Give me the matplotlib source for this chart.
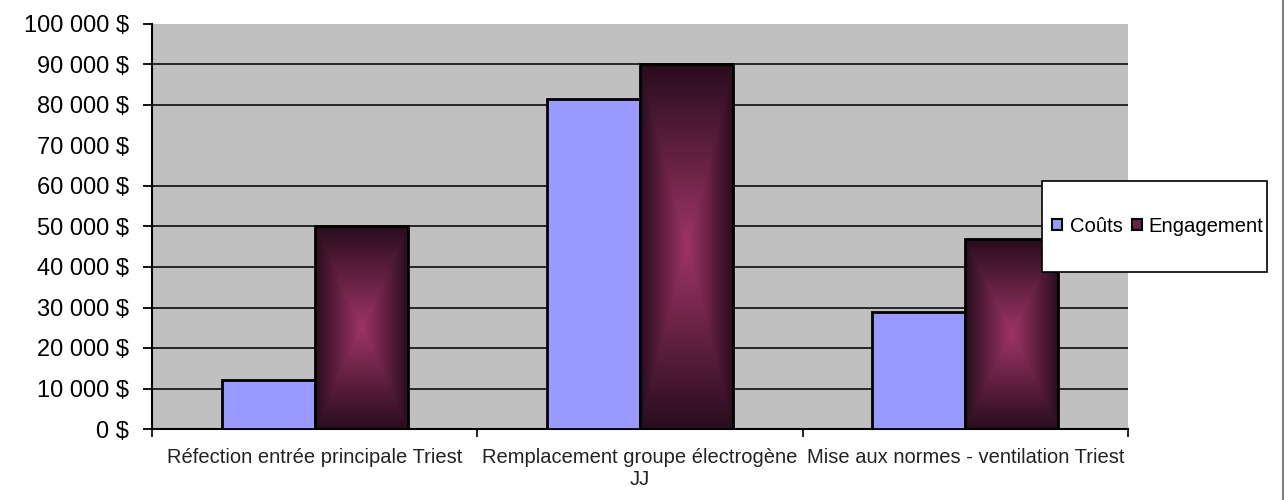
import numpy as np
import matplotlib; matplotlib.use("Agg")
import matplotlib.pyplot as plt
from matplotlib.patches import Patch, Rectangle
from matplotlib.lines import Line2D
from matplotlib.ticker import FuncFormatter

plt.rcParams["font.family"] = ["Liberation Sans", "DejaVu Sans"]

CATEGORIES = ["Réfection entrée principale Triest",
              "Remplacement groupe électrogène\nJJ",
              "Mise aux normes - ventilation Triest"]
COUTS = [12000, 81600, 29000]
ENGAGEMENT = [50000, 90000, 46800]
Y_TICKS = list(range(0, 100001, 10000))
GRID_LINES = [10000, 20000, 30000, 40000, 50000, 60000, 80000, 90000]
SERIES = ["Coûts", "Engagement"]

BLUE = "#9999FF"
PLUM_CENTER = np.array([158, 52, 104]) / 255.0
PLUM_EDGE = np.array([40, 13, 28]) / 255.0
PLOT_BG = "#C0C0C0"


def fmt_dollars(v, _pos):
    return f"{int(v):,} $".replace(",", " ")


def plum_gradient(ny=240, nx=120):
    # rectangular "from centre" fill: bright in the middle, dark toward every side
    v, u = np.meshgrid(np.linspace(-1, 1, ny), np.linspace(-1, 1, nx), indexing="ij")
    d = np.maximum(np.abs(u), np.abs(v))[..., None]
    return PLUM_CENTER * (1 - d) + PLUM_EDGE * d


fig = plt.figure(figsize=(12.84, 5.0), dpi=100)
ax = fig.add_axes([152 / 1284, 1 - 429 / 500, (1128 - 152) / 1284, (429 - 24) / 500])
ax.set_facecolor(PLOT_BG)

x = np.arange(len(CATEGORIES))
w = 0.286
for g in GRID_LINES:
    ax.axhline(g, color="#1a1a1a", lw=1.3, zorder=1)

ax.bar(x - w / 2, COUTS, w, color=BLUE, edgecolor="black", lw=2, zorder=3)
eng = ax.bar(x + w / 2, ENGAGEMENT, w, color="none", edgecolor="black", lw=2, zorder=4)
grad = plum_gradient()
for r in eng:
    im = ax.imshow(grad, extent=[r.get_x(), r.get_x() + r.get_width(), 0, r.get_height()],
                   aspect="auto", interpolation="bilinear", zorder=2.5)
    im.set_clip_path(r)

ax.set_xlim(-0.5, len(CATEGORIES) - 0.5)
ax.set_ylim(0, 100000)

ax.set_yticks(Y_TICKS)
ax.yaxis.set_major_formatter(FuncFormatter(fmt_dollars))
ax.tick_params(axis="y", labelsize=17, length=6.5, width=1.3, pad=10, colors="black")
ax.yaxis.get_major_ticks()[7].tick1line.set_visible(False)

ax.set_xticks(np.arange(len(CATEGORIES) + 1) - 0.5)
ax.set_xticklabels([])
ax.set_xticks(x, minor=True)
ax.set_xticklabels(CATEGORIES, minor=True, fontsize=14.5, color="#222222")
ax.tick_params(axis="x", which="major", length=6, width=1.2)
ax.tick_params(axis="x", which="minor", length=0, pad=14)

for s in ("top", "right"):
    ax.spines[s].set_visible(False)
ax.spines["left"].set_linewidth(1.5)
ax.spines["bottom"].set_linewidth(1.5)

# legend panel overlapping the plot area on the right
fig.add_artist(Rectangle((1042 / 1284, 1 - 272 / 500), 225 / 1284, 91 / 500,
                         transform=fig.transFigure, facecolor="white",
                         edgecolor="black", lw=1.2, zorder=4))
handles = [Patch(facecolor=BLUE, edgecolor="black", lw=1.5),
           Patch(facecolor="#6a1f45", edgecolor="black", lw=1.5)]
leg = fig.legend(handles, SERIES, loc="center", bbox_to_anchor=(1158 / 1284, 1 - 226 / 500),
                 ncol=2, frameon=False, fontsize=14.6, handlelength=0.5, handleheight=0.5,
                 handletextpad=0.35, columnspacing=0.45, borderpad=0)
leg.set_zorder(5)

fig.add_artist(Line2D([1283 / 1284] * 2, [0, 1], transform=fig.transFigure,
                      color="#808080", lw=1.5))

fig.savefig("out.png", dpi=100, facecolor="white")
